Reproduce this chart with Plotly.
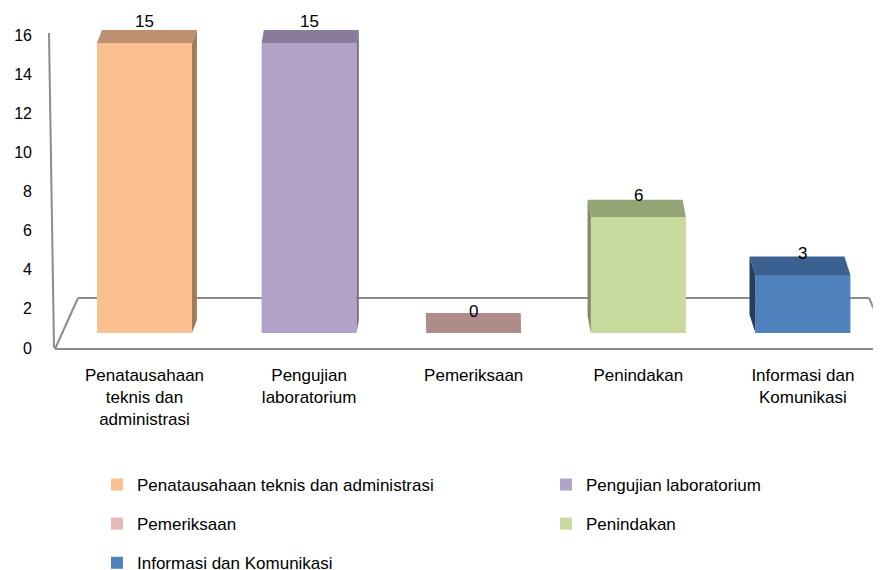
import plotly.graph_objects as go

# ---------------- data ----------------
categories = ["Penatausahaan teknis dan administrasi", "Pengujian laboratorium",
              "Pemeriksaan", "Penindakan", "Informasi dan Komunikasi"]
tick_text = ["Penatausahaan<br>teknis dan<br>administrasi", "Pengujian<br>laboratorium",
             "Pemeriksaan", "Penindakan", "Informasi dan<br>Komunikasi"]
values = [15, 15, 0, 6, 3]
y_ticks = [0, 2, 4, 6, 8, 10, 12, 14, 16]

# ---------------- style ----------------
front_colors = ["#FAC090", "#B3A2C7", "#E6B9B8", "#C8DA9E", "#4F81BD"]
top_colors = ["#BE9070", "#887C99", "#AE8C89", "#94A575", "#3B6190"]
side_colors = ["#A47B5A", "#7A6E8C", "#9A7A77", "#7C8A60", "#233E61"]
legend_of = ["legend", "legend2", "legend", "legend2", "legend"]

FONT = "Liberation Sans, Arial, sans-serif"
FIG_W, FIG_H = 881, 570
OFF = 8                      # page offset of the figure (body margin)
SL, ST, SB = 55, 30, 348     # plot area on screen: left, top, bottom
M_L, M_T, M_R = SL - OFF, ST - OFF, 0
M_B = FIG_H - (SB - OFF)
PW, PH = FIG_W - M_L - M_R, FIG_H - M_T - M_B

# x scale: one category step in pixels, first centre position on screen
STEP_PX = 164.6
X0 = -(144.5 - SL) / STEP_PX
X1 = X0 + PW / STEP_PX
BAR_W = 95 / STEP_PX
# bar value axis (3-D floor sits above the tick-axis zero)
Y2_RANGE = [-(SB - 333) / ((333 - 43) / 15), (333 - ST) / ((333 - 43) / 15)]
PPU_Y2 = PH / (Y2_RANGE[1] - Y2_RANGE[0])
Y_RANGE = [0, PH / ((348 - 35) / 16)]


def px_x(xv):
    return SL + (xv - X0) * STEP_PX


def paper(xs, ys):
    return (xs - SL) / PW, (SB - ys) / PH


fig = go.Figure()
shapes = []
annotations = []

# invisible carrier so the tick axis is drawn
fig.add_trace(go.Scatter(x=[None], y=[None], mode="markers", showlegend=False,
                         hoverinfo="skip"))

for i, (cat, v) in enumerate(zip(categories, values)):
    fig.add_trace(go.Bar(
        x=[i], y=[v], width=BAR_W, name=cat, yaxis="y2",
        marker=dict(color=front_colors[i], line=dict(width=0)),
        legend=legend_of[i], legendgroup=cat, hoverinfo="x+y",
    ))
    h_px = v * PPU_Y2
    depth_px = 20 - 7 * h_px / 290
    dx_px = -(px_x(i) - 444) * 0.0165
    dx = dx_px / STEP_PX
    dy = depth_px / PPU_Y2
    l, r = i - BAR_W / 2, i + BAR_W / 2
    top = f"M{l},{v} L{r},{v} L{r + dx},{v + dy} L{l + dx},{v + dy} Z"
    shapes.append(dict(type="path", path=top, xref="x", yref="y2",
                       fillcolor=top_colors[i], line=dict(width=0), layer="above"))
    if v > 0:
        e = r if dx > 0 else l
        side = f"M{e},0 L{e},{v} L{e + dx},{v + dy} L{e + dx},{dy} Z"
        shapes.append(dict(type="path", path=side, xref="x", yref="y2",
                           fillcolor=side_colors[i], line=dict(width=0), layer="above"))
    annotations.append(dict(x=i, y=v, xref="x", yref="y2", text=str(v), showarrow=False,
                            yanchor="middle", yshift=21.5,
                            font=dict(family=FONT, size=17, color="#000000")))

# floor / wall outline of the 3-D frame (screen pixels)
line_style = dict(color="#8C8C8C", width=2)
frame = [((49, 33), (54, 348)), ((55, 349), (889, 349)), ((55, 349), (78, 298)),
         ((78, 298), (869, 298)), ((869, 298), (889, 343))]
for (a, b) in frame:
    x0p, y0p = paper(*a)
    x1p, y1p = paper(*b)
    shapes.append(dict(type="line", xref="paper", yref="paper", x0=x0p, y0=y0p,
                       x1=x1p, y1=y1p, line=line_style, layer="below"))

fig.update_layout(
    width=FIG_W, height=FIG_H,
    margin=dict(l=M_L, r=M_R, t=M_T, b=M_B, autoexpand=False),
    paper_bgcolor="white", plot_bgcolor="white",
    font=dict(family=FONT, size=17, color="#000000"),
    showlegend=True, barmode="overlay",
    xaxis=dict(range=[X0, X1], tickmode="array", tickvals=list(range(len(categories))),
               ticktext=tick_text, showgrid=False, zeroline=False, showline=False,
               ticks="", ticklabelstandoff=15, tickfont=dict(size=17)),
    yaxis=dict(range=Y_RANGE, tickmode="array", tickvals=y_ticks, showgrid=False,
               zeroline=False, showline=False, ticks="", ticklabelstandoff=22,
               tickfont=dict(size=16), showticklabels=True, visible=True),
    yaxis2=dict(range=Y2_RANGE, overlaying="y", visible=False),
    shapes=shapes, annotations=annotations,
    legend=dict(x=paper(97, 0)[0], y=paper(0, 467)[1], xanchor="left", yanchor="top",
                orientation="v", tracegroupgap=14, font=dict(size=17),
                bgcolor="rgba(0,0,0,0)"),
    legend2=dict(x=paper(546, 0)[0], y=paper(0, 467)[1], xanchor="left", yanchor="top",
                 orientation="v", tracegroupgap=14, font=dict(size=17),
                 bgcolor="rgba(0,0,0,0)"),
)

fig.write_html("out.html")
